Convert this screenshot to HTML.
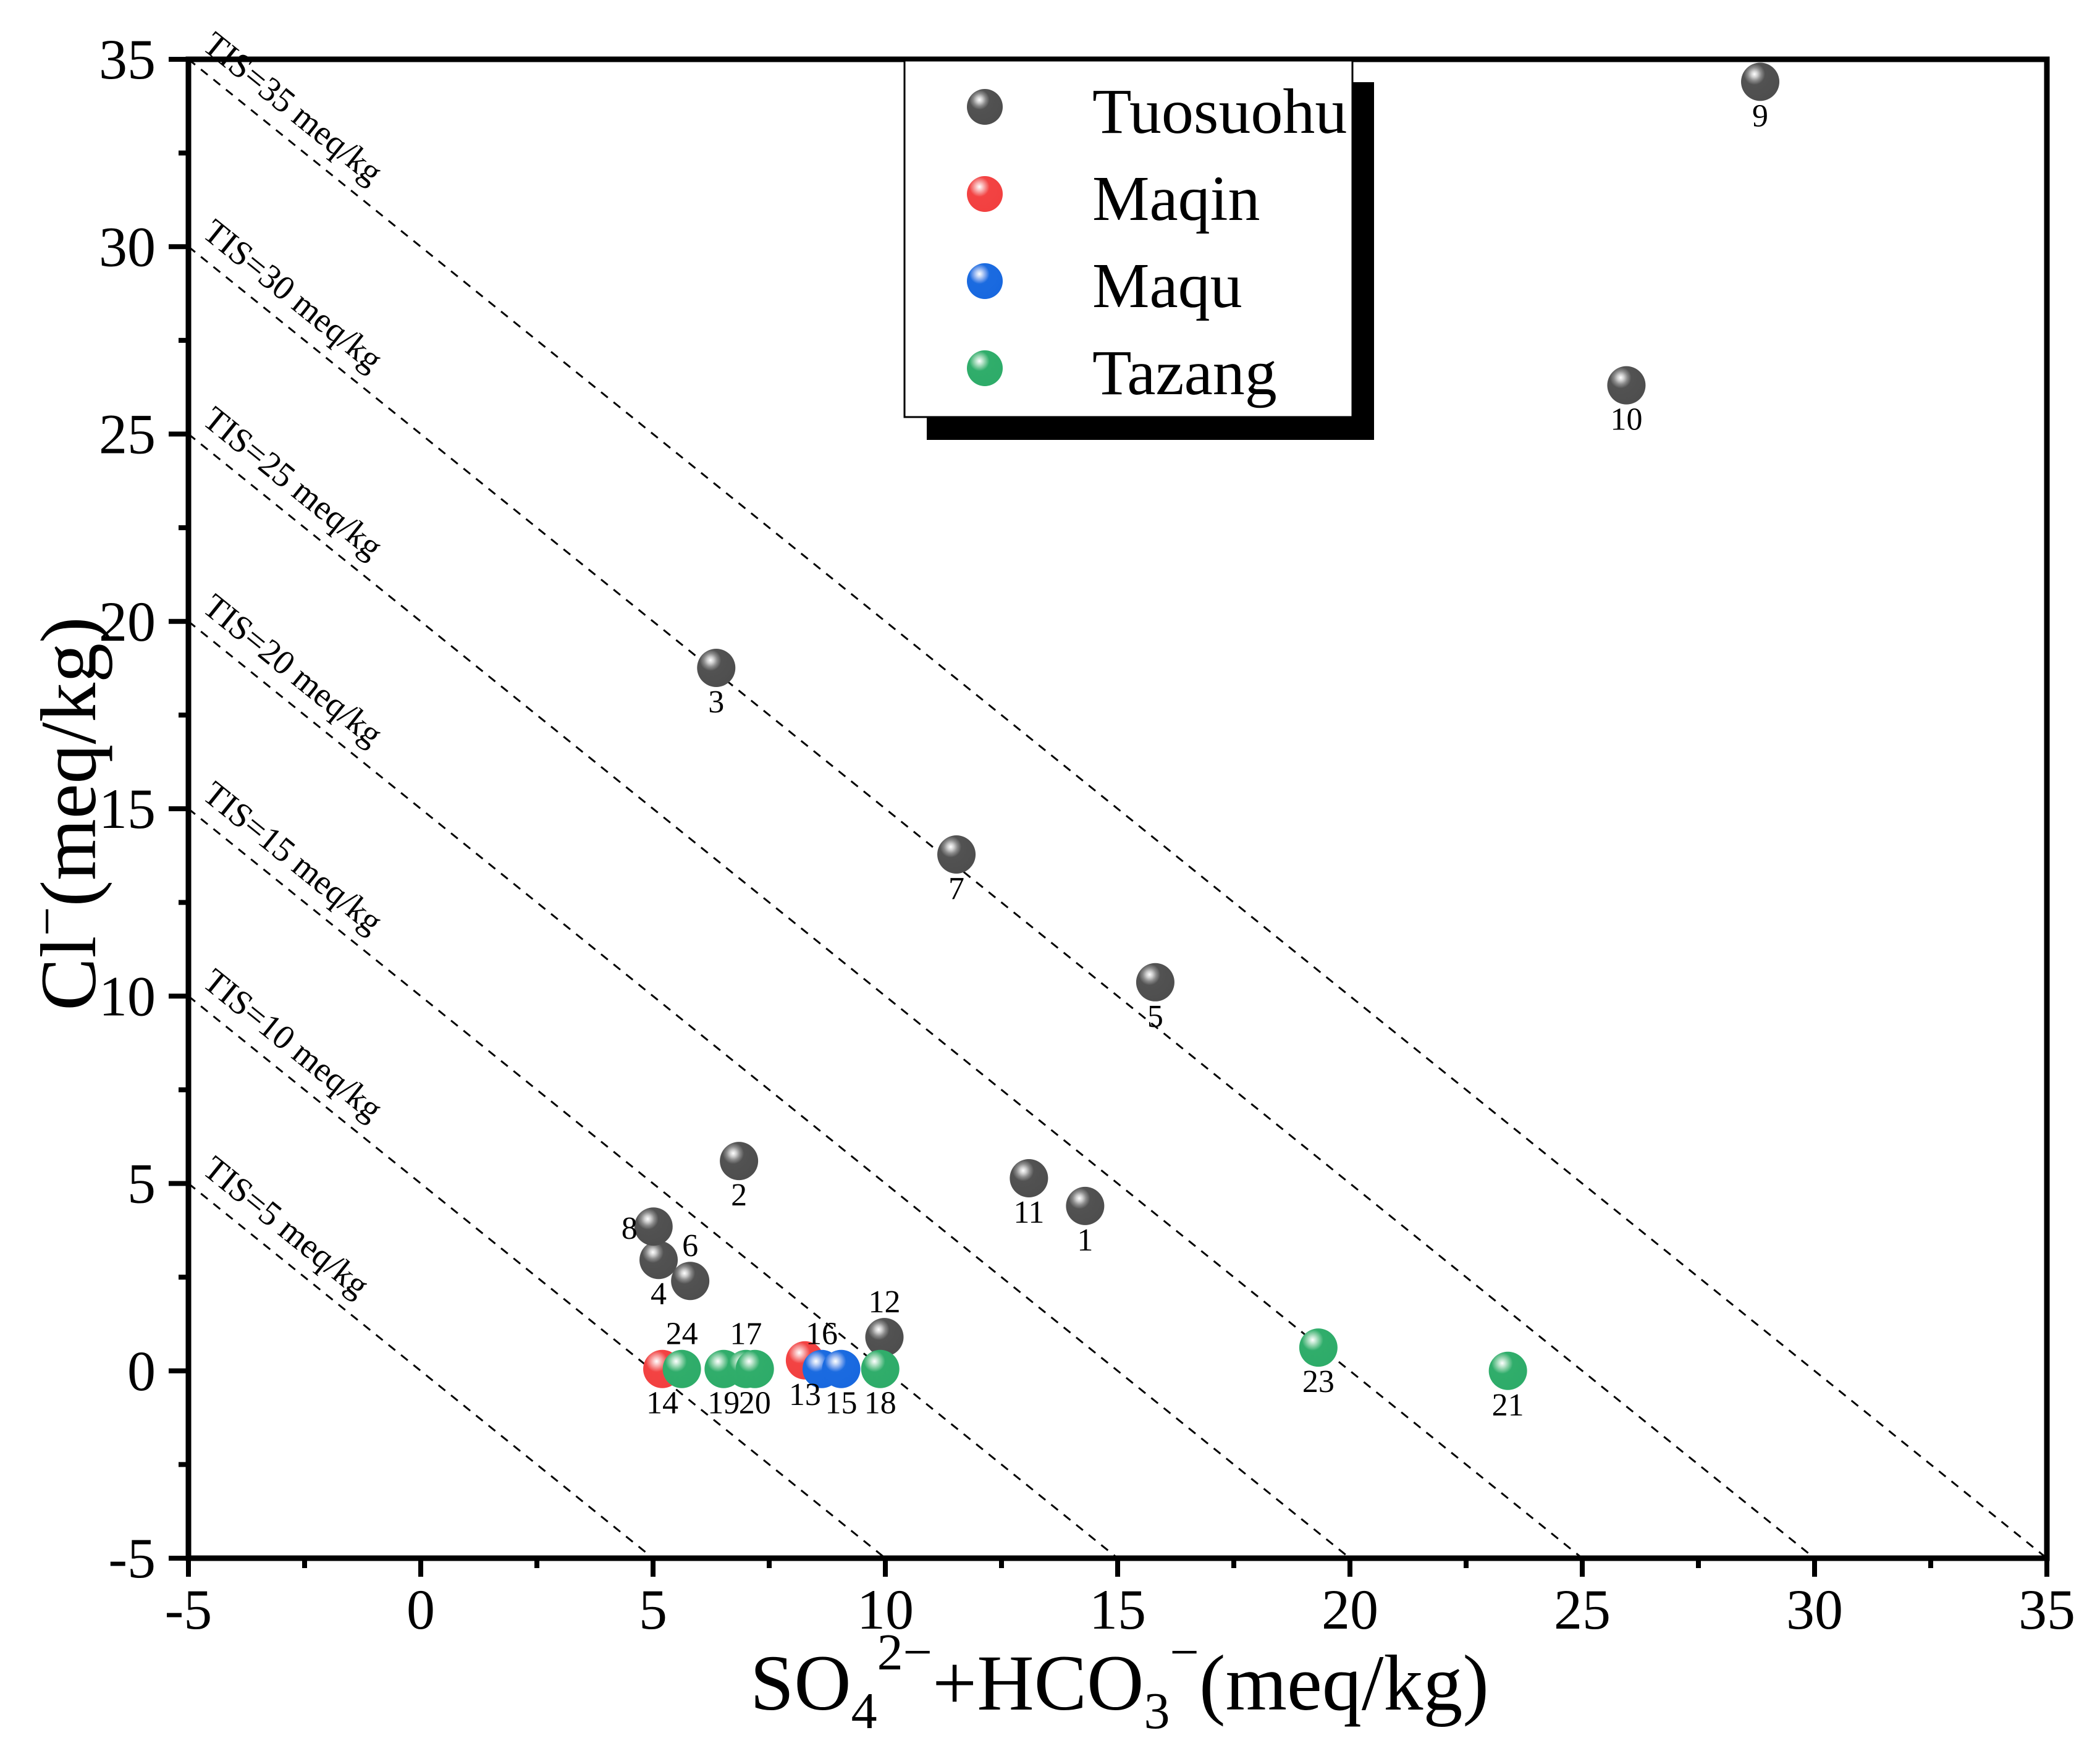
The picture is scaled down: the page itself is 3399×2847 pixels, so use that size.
<!DOCTYPE html>
<html><head><meta charset="utf-8"><style>
html,body{margin:0;padding:0;background:#fff;}
svg{display:block;font-family:"Liberation Serif",serif;}
</style></head><body>
<svg id="chart" width="3399" height="2847" viewBox="0 0 3399 2847" xmlns="http://www.w3.org/2000/svg">
<defs>
<clipPath id="plotclip"><rect x="305" y="96" width="3008" height="2426"/></clipPath>
<radialGradient id="g-gray" cx="0.35" cy="0.3" r="0.7"><stop offset="0" stop-color="#ffffff"/><stop offset="0.12" stop-color="#cfcfcf"/><stop offset="0.25" stop-color="#8a8a8a"/><stop offset="0.4" stop-color="#525252"/><stop offset="1" stop-color="#4e4e4e"/></radialGradient>
<radialGradient id="g-red" cx="0.35" cy="0.3" r="0.7"><stop offset="0" stop-color="#ffffff"/><stop offset="0.12" stop-color="#fbc8c8"/><stop offset="0.25" stop-color="#f58a8a"/><stop offset="0.4" stop-color="#f34343"/><stop offset="1" stop-color="#f24040"/></radialGradient>
<radialGradient id="g-blue" cx="0.35" cy="0.3" r="0.7"><stop offset="0" stop-color="#ffffff"/><stop offset="0.12" stop-color="#c3d6f6"/><stop offset="0.25" stop-color="#78a2ec"/><stop offset="0.4" stop-color="#1b6be0"/><stop offset="1" stop-color="#1868df"/></radialGradient>
<radialGradient id="g-green" cx="0.35" cy="0.3" r="0.7"><stop offset="0" stop-color="#ffffff"/><stop offset="0.12" stop-color="#c4e8d3"/><stop offset="0.25" stop-color="#80cca0"/><stop offset="0.4" stop-color="#30ad6b"/><stop offset="1" stop-color="#2eac69"/></radialGradient>
</defs>
<g id="tis-lines" clip-path="url(#plotclip)"></g>
<g id="tis-labels"></g>
<g id="points"></g>
<g id="axes"></g>
<g id="legend">
  <rect x="1500" y="133" width="724" height="579" fill="#000"/>
  <rect x="1464" y="98" width="725" height="577" fill="#fff" stroke="#000" stroke-width="3"/>
</g>
<text x="1812" y="2767" font-size="128" text-anchor="middle">SO<tspan font-size="84" dy="30">4</tspan><tspan font-size="84" dy="-95">2−</tspan><tspan dy="65">+HCO</tspan><tspan font-size="84" dy="30">3</tspan><tspan font-size="84" dy="-95">−</tspan><tspan dy="65">(meq/kg)</tspan></text>
<text transform="translate(154,1317) rotate(-90)" font-size="128" text-anchor="middle">Cl<tspan font-size="84" dy="-50">−</tspan><tspan dy="50">(meq/kg)</tspan></text>
</svg>
<script>
const xMin=-5,xMax=35,yMin=-5,yMax=35;
const px0=305,px1=3313,py0=2522,py1=96;
const xTicks=[-5,0,5,10,15,20,25,30,35];
const yTicks=[-5,0,5,10,15,20,25,30,35];
const tisValues=[5,10,15,20,25,30,35];
const seriesNames=['Tuosuohu','Maqin','Maqu','Tazang'];
const seriesGrad=['g-gray','g-red','g-blue','g-green'];
const sampleIds=[1,2,3,4,5,6,7,8,9,10,11,12,14,13,24,19,17,20,16,15,18,23,21];
const sampleSeries=[0,0,0,0,0,0,0,0,0,0,0,0,1,1,3,3,3,3,2,2,3,3,3];
const sampleX=[14.3,6.85,6.36,5.12,15.81,5.8,11.53,5.01,28.83,25.95,13.09,9.98,5.2,8.27,5.62,6.52,7.0,7.19,8.63,9.05,9.89,19.32,23.4];
const sampleY=[4.4,5.6,18.76,2.96,10.37,2.4,13.78,3.85,34.4,26.3,5.14,0.9,0.05,0.28,0.05,0.05,0.05,0.05,0.05,0.05,0.05,0.62,0.0];
const labelPos=['b','b','b','b','b','a','b','l','b','b','b','a','b','b','a','b','a','b','a','b','b','b','b'];
const NS='http://www.w3.org/2000/svg';
function sx(v){return px0+(v-xMin)/(xMax-xMin)*(px1-px0);}
function sy(v){return py0-(v-yMin)/(yMax-yMin)*(py0-py1);}
function mk(tag,attrs,parent){const e=document.createElementNS(NS,tag);for(const k in attrs)e.setAttribute(k,attrs[k]);parent.appendChild(e);return e;}
const gl=document.getElementById('tis-lines'),gt=document.getElementById('tis-labels');
const ang=Math.atan2(sy(0)-sy(1),sx(1)-sx(0))*180/Math.PI;
tisValues.forEach(v=>{
  const ln=mk('line',{x1:sx(-5),y1:sy(v),x2:sx(v),y2:sy(-5),stroke:'#000','stroke-width':3,'stroke-dasharray':'14 12'},gl);
  
  
  const x0=sx(-5)+20,y0=sy(v)-18;
  const t=mk('text',{x:x0,y:y0,'font-size':56,transform:`rotate(${ang} ${x0} ${y0})`},gt);
  t.textContent='TIS='+v+' meq/kg';
  
  
});
const gp=document.getElementById('points');
sampleIds.forEach((id,i)=>{
  const cx=sx(sampleX[i]),cy=sy(sampleY[i]);
  const c=mk('circle',{cx:cx,cy:cy,r:31,fill:'url(#'+seriesGrad[sampleSeries[i]]+')'},gp);
  
  
});
sampleIds.forEach((id,i)=>{
  const cx=sx(sampleX[i]),cy=sy(sampleY[i]);
  let x=cx,y=cy+72,anc='middle';
  if(labelPos[i]==='a'){y=cy-40;}
  if(labelPos[i]==='l'){x=cx-26;y=cy+20;anc='end';}
  const t=mk('text',{x:x,y:y,'font-size':52,'text-anchor':anc},gp);
  t.textContent=String(id);
  
  
});
const ga=document.getElementById('axes');
const frame=mk('rect',{x:px0,y:py1,width:px1-px0,height:py0-py1,fill:'none',stroke:'#000','stroke-width':9},ga);


xTicks.forEach(v=>{
  const l=mk('line',{x1:sx(v),y1:py0,x2:sx(v),y2:py0+30,stroke:'#000','stroke-width':8},ga);
  
  
  const t=mk('text',{x:sx(v),y:2636,'font-size':92,'text-anchor':'middle'},ga);
  t.textContent=String(v);
  
  
  if(v<xMax){const m=mk('line',{x1:sx(v+2.5),y1:py0,x2:sx(v+2.5),y2:py0+16,stroke:'#000','stroke-width':8},ga);
  
  }
});
yTicks.forEach(v=>{
  const l=mk('line',{x1:px0,y1:sy(v),x2:px0-32,y2:sy(v),stroke:'#000','stroke-width':8},ga);
  
  
  const t=mk('text',{x:252,y:sy(v)+31,'font-size':92,'text-anchor':'end'},ga);
  t.textContent=String(v);
  
  
  if(v<yMax){const m=mk('line',{x1:px0,y1:sy(v+2.5),x2:px0-16,y2:sy(v+2.5),stroke:'#000','stroke-width':8},ga);
  
  }
});
const gleg=document.getElementById('legend');
seriesNames.forEach((n,i)=>{
  const cy=173+i*141;
  const c=mk('circle',{cx:1594,cy:cy,r:29,fill:'url(#'+seriesGrad[i]+')'},gleg);
  
  
  const t=mk('text',{x:1768,y:cy+42,'font-size':104},gleg);
  t.textContent=n;
  
  
});
</script>
</body></html>
